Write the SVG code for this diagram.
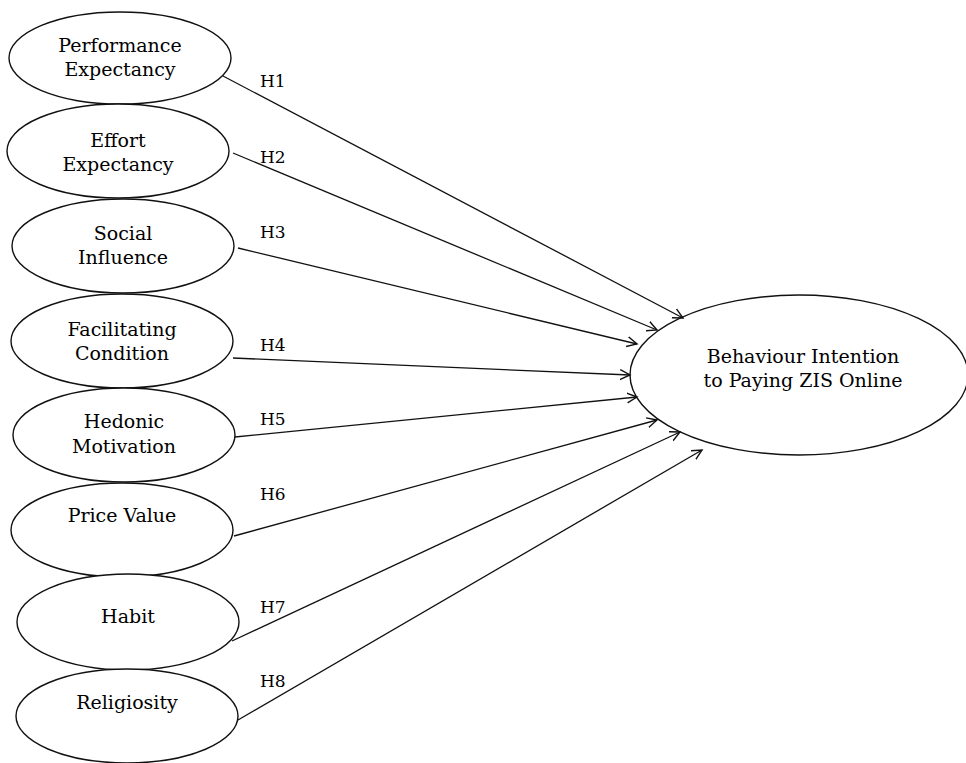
<svg xmlns="http://www.w3.org/2000/svg" width="966" height="763" viewBox="0 0 966 763">
<style>
.node ellipse{fill:#fff;stroke:#111;stroke-width:1.4}
text{font-family:"DejaVu Serif","Liberation Serif",serif;font-size:19px;fill:#000;text-anchor:middle}
.h{font-size:17px;text-anchor:start}
#connectors line{stroke:#111;stroke-width:1.3;marker-end:url(#arr)}
</style>
<defs>
<marker id="arr" markerUnits="userSpaceOnUse" markerWidth="12" markerHeight="12" refX="10" refY="5" orient="auto" viewBox="0 0 12 10">
<path d="M0,0 L10,5 L0,10" fill="none" stroke="#111" stroke-width="1.4"/>
</marker>
</defs>
<rect width="966" height="763" fill="#fff"/>
<g id="pe" class="node"><ellipse cx="120" cy="58" rx="111" ry="46"/><text x="120" y="52">Performance</text><text x="120" y="76">Expectancy</text></g>
<g id="ee" class="node"><ellipse cx="118" cy="151" rx="111" ry="47"/><text x="118" y="147">Effort</text><text x="118" y="171">Expectancy</text></g>
<g id="si" class="node"><ellipse cx="123" cy="246" rx="111" ry="47"/><text x="123" y="240">Social</text><text x="123" y="264">Influence</text></g>
<g id="fc" class="node"><ellipse cx="122" cy="341" rx="111" ry="47"/><text x="122" y="336">Facilitating</text><text x="122" y="360">Condition</text></g>
<g id="hm" class="node"><ellipse cx="124" cy="435" rx="111" ry="47"/><text x="124" y="428">Hedonic</text><text x="124" y="453">Motivation</text></g>
<g id="pv" class="node"><ellipse cx="122" cy="530" rx="111" ry="47"/><text x="122" y="522">Price Value</text></g>
<g id="hb" class="node"><ellipse cx="128" cy="622" rx="111" ry="48"/><text x="128" y="623">Habit</text></g>
<g id="rl" class="node"><ellipse cx="127" cy="716" rx="111" ry="47"/><text x="127" y="709">Religiosity</text></g>
<g id="bi" class="node"><ellipse cx="799" cy="375" rx="169" ry="80"/><text x="803" y="363">Behaviour Intention</text><text x="803" y="387">to Paying ZIS Online</text></g>
<g id="connectors">
<line x1="223" y1="76" x2="683" y2="318"/>
<line x1="233" y1="153" x2="657" y2="330"/>
<line x1="238" y1="248" x2="637" y2="344"/>
<line x1="233" y1="358" x2="630" y2="375"/>
<line x1="235" y1="437" x2="637" y2="397"/>
<line x1="234" y1="536" x2="657" y2="420"/>
<line x1="232" y1="641" x2="680" y2="432"/>
<line x1="238" y1="720" x2="702" y2="450"/>
</g>
<g id="labels">
<text class="h" x="260" y="87">H1</text>
<text class="h" x="260" y="163">H2</text>
<text class="h" x="260" y="238">H3</text>
<text class="h" x="260" y="351">H4</text>
<text class="h" x="260" y="425">H5</text>
<text class="h" x="260" y="500">H6</text>
<text class="h" x="260" y="613">H7</text>
<text class="h" x="260" y="687">H8</text>
</g>
</svg>
